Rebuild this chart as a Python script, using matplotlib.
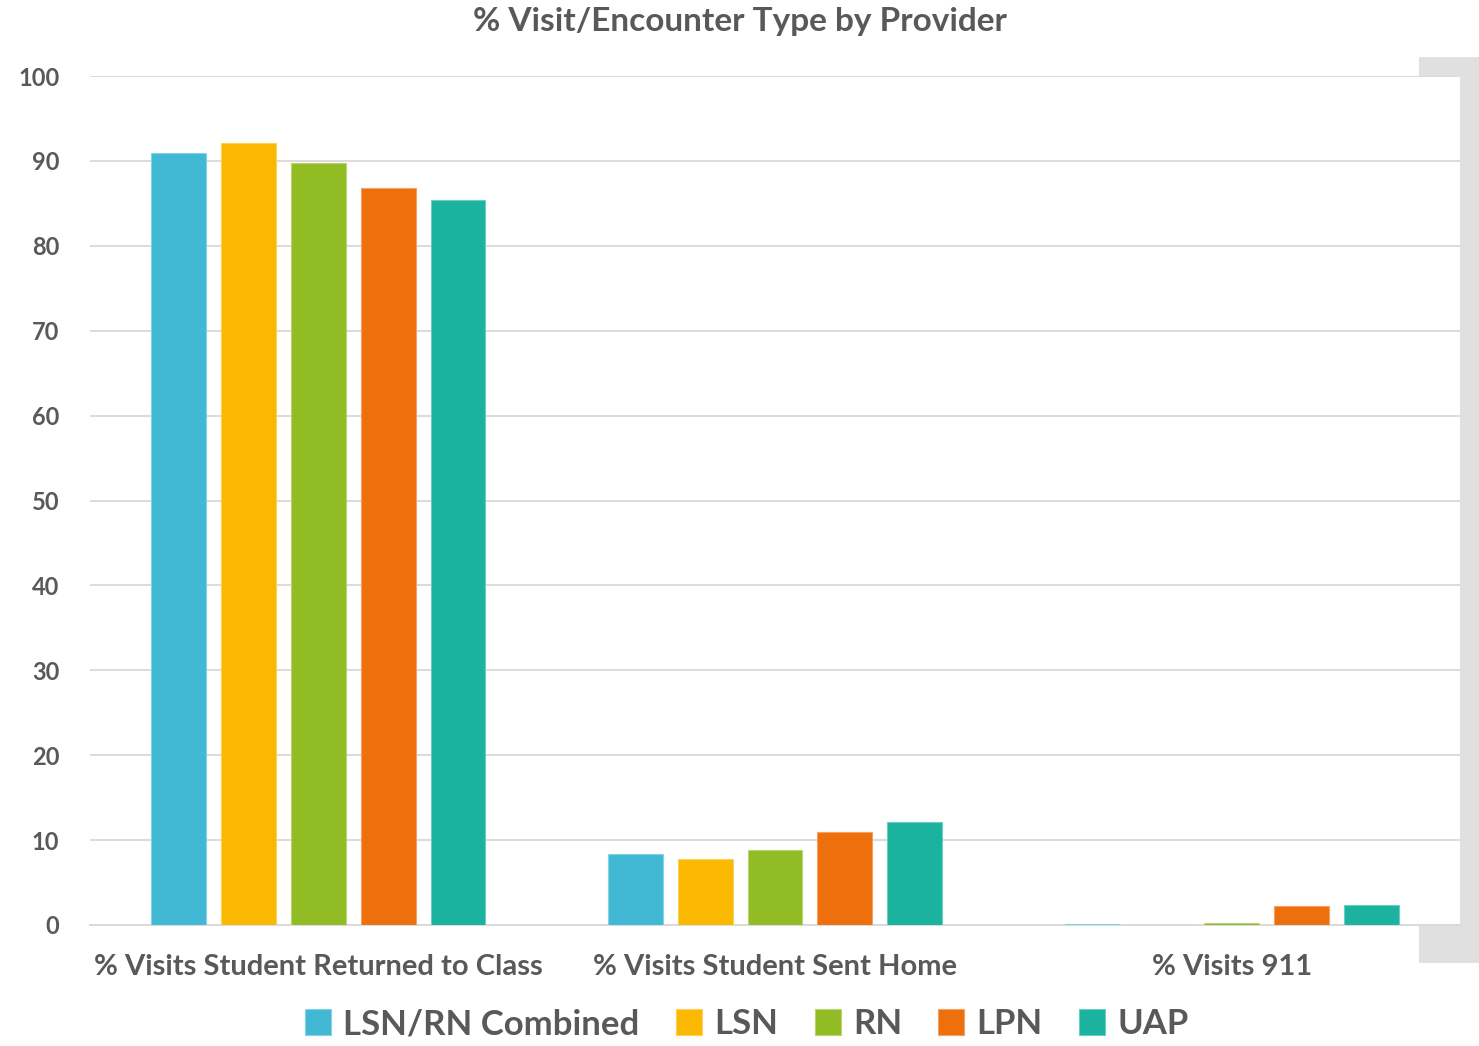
import matplotlib
matplotlib.use("Agg")
import matplotlib.pyplot as plt
import numpy as np
from matplotlib.patches import Rectangle
from matplotlib.colors import to_rgb

categories = ["% Visits Student Returned to Class", "% Visits Student Sent Home", "% Visits 911"]
series = ["LSN/RN Combined", "LSN", "RN", "LPN", "UAP"]
values = {
    "LSN/RN Combined": [90.9, 8.4, 0.1],
    "LSN": [92.1, 7.8, 0.0],
    "RN": [89.7, 8.8, 0.2],
    "LPN": [86.8, 10.9, 2.2],
    "UAP": [85.4, 12.1, 2.4],
}
colors = ["#41B9D4", "#FAB800", "#92BC24", "#EE700C", "#1BB39F"]
yticks = [0, 10, 20, 30, 40, 50, 60, 70, 80, 90, 100]

plt.rcParams['font.family'] = ['Lato', 'DejaVu Sans']
text_color = "#595959"

W, H = 1479, 1046
fig = plt.figure(figsize=(W / 100, H / 100), dpi=100)
fig.patch.set_facecolor("white")

# gray backdrop at right
fig.add_artist(Rectangle((1419 / W, 1 - 963 / H), (W - 1419) / W, (963 - 57) / H,
                         transform=fig.transFigure, facecolor="#E0E0E0", edgecolor="none", zorder=-1))

ax = fig.add_axes([90 / W, 1 - 925 / H, (1460 - 90) / W, (925 - 76) / H])
ax.set_facecolor("white")

x = np.arange(len(categories))
width = 0.12
pitch = 0.153
for i, (s, c) in enumerate(zip(series, colors)):
    offs = (i - 2) * pitch
    rgb = np.array(to_rgb(c))
    edge = tuple(rgb + (1 - rgb) * 0.35)
    ax.bar(x + offs, values[s], width=width, color=c, edgecolor=edge, linewidth=0.8, label=s, zorder=3)

ax.set_xlim(-0.5, 2.5)
ax.set_ylim(0, 100)
ax.set_yticks(yticks)
ax.set_yticklabels([str(t) for t in yticks], fontsize=17, fontweight="bold", color=text_color)
ax.yaxis.grid(True, color="#D9D9D9", linewidth=1.3, zorder=0)
ax.set_axisbelow(True)
ax.tick_params(axis="y", length=0, pad=22)
ax.tick_params(axis="x", length=0, pad=21)
ax.set_xticks(x)
ax.set_xticklabels(categories, fontsize=21, fontweight="bold", color=text_color)
for side in ["top", "right", "left"]:
    ax.spines[side].set_visible(False)
ax.spines["bottom"].set_color("#D9D9D9")
ax.spines["bottom"].set_linewidth(1.3)

fig.text(0.5, 1 - 22 / H, "% Visit/Encounter Type by Provider", ha="center", va="center",
         fontsize=24, fontweight="bold", color=text_color)

leg = fig.legend(loc="center", bbox_to_anchor=(0.505, 1 - 1024 / H), ncol=5, frameon=False,
                 fontsize=25, handlelength=0.75, handleheight=0.75, handletextpad=0.35,
                 columnspacing=1.05)
for t in leg.get_texts():
    t.set_color(text_color)
    t.set_fontweight("bold")

fig.savefig("out.png", dpi=100)
